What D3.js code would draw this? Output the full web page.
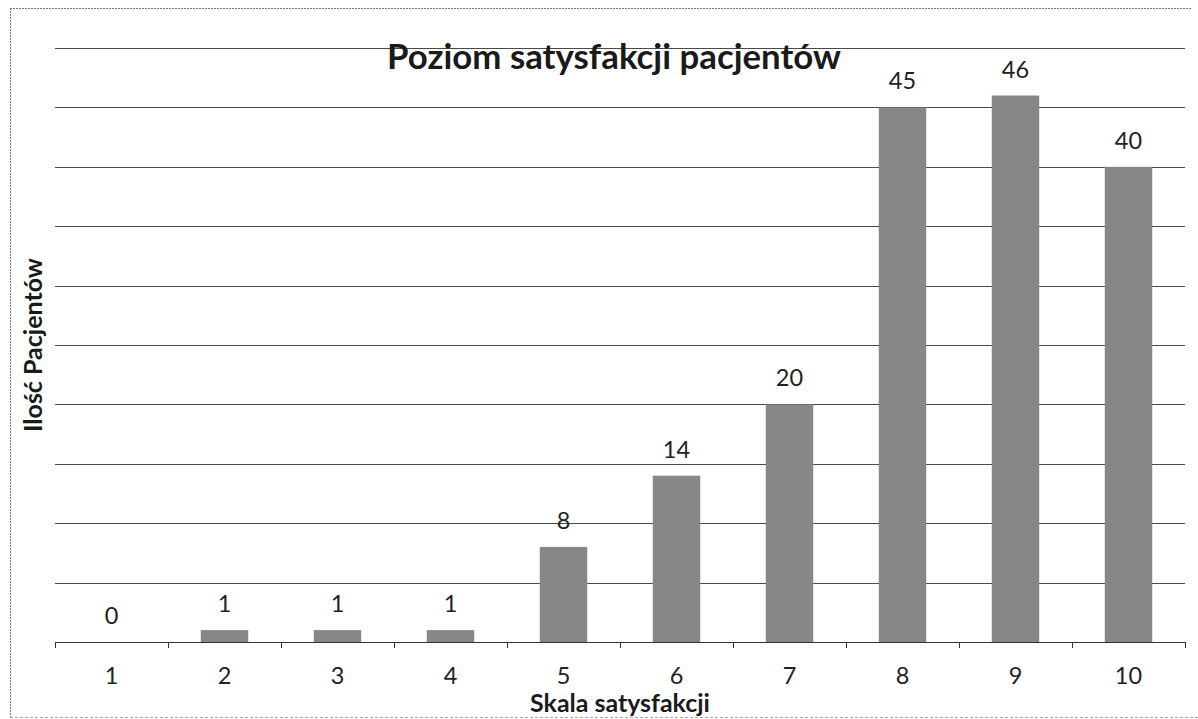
<!DOCTYPE html>
<html><head><meta charset="utf-8">
<script src="https://cdn.jsdelivr.net/npm/d3@7"></script>
<style>
html,body{margin:0;padding:0;background:#fff;}
svg{display:block;font-family:Lato,"Open Sans",sans-serif;}
</style></head>
<body><svg id="c" width="1198" height="719"></svg>
<script>
const categories = ["1","2","3","4","5","6","7","8","9","10"];
const values = [0,1,1,1,8,14,20,45,46,40];
const gridTicks = [5,10,15,20,25,30,35,40,45,50];
const titleText = "Poziom satysfakcji pacjentów";
const xTitle = "Skala satysfakcji";
const yTitle = "Ilość Pacjentów";

(function(){
const svg = d3.select("#c");
const plotLeft = 55, plotRight = 1185, plotTop = 48, base = 642;
const midX = (plotLeft + plotRight) / 2;

function fit(sel, target){
  const w = sel.node().getComputedTextLength();
  const fs = parseFloat(sel.attr("font-size"));
  sel.attr("font-size", (fs * target / w).toFixed(2));
}

// border (scanned frame)
svg.append("line").attr("x1",10).attr("x2",1192).attr("y1",8.5).attr("y2",8.5)
  .attr("stroke","#777").attr("stroke-width",1).attr("stroke-dasharray","2,1");
svg.append("line").attr("x1",10.5).attr("x2",10.5).attr("y1",8).attr("y2",719)
  .attr("stroke","#777").attr("stroke-width",1).attr("stroke-dasharray","2,1");
svg.append("line").attr("x1",10).attr("x2",1198).attr("y1",717.5).attr("y2",717.5)
  .attr("stroke","#aaa").attr("stroke-width",1).attr("stroke-dasharray","3,2");

const x = d3.scaleBand().domain(categories).range([plotLeft,plotRight]).paddingInner(0.58).paddingOuter(0.29);
const y = d3.scaleLinear().domain([0,50]).range([base,plotTop]);

// gridlines
svg.append("g").selectAll("line").data(gridTicks).join("line")
  .attr("x1",plotLeft).attr("x2",plotRight)
  .attr("y1",d=>Math.round(y(d))+0.5).attr("y2",d=>Math.round(y(d))+0.5)
  .attr("stroke","#4a4a4a").attr("stroke-width",1);

// title
const t = svg.append("text").attr("x",614).attr("y",69).attr("text-anchor","middle")
  .attr("font-size",30).attr("font-weight","bold").attr("fill","#1a1a1a").text(titleText);
fit(t, 454);

// bars
svg.append("g").selectAll("rect").data(values).join("rect")
  .attr("x",(d,i)=>x(categories[i])).attr("width",x.bandwidth())
  .attr("y",d=>y(d)).attr("height",d=>base-y(d))
  .attr("fill","#878787");

// value labels
svg.append("g").selectAll("text").data(values).join("text")
  .attr("x",(d,i)=>x(categories[i])+x.bandwidth()/2)
  .attr("y",d=>y(d)-18).attr("text-anchor","middle")
  .attr("font-size",23.5).attr("fill","#222").text(d=>d);

// x axis
const step = x.step();
const bounds = categories.map(c=>x(c)+x.bandwidth()/2-step/2).concat([x(categories[categories.length-1])+x.bandwidth()/2+step/2]);
svg.append("line").attr("x1",plotLeft).attr("x2",plotRight).attr("y1",base+0.5).attr("y2",base+0.5)
  .attr("stroke","#333").attr("stroke-width",1);
svg.append("g").selectAll("line").data(bounds).join("line")
  .attr("x1",d=>Math.round(d)+0.5).attr("x2",d=>Math.round(d)+0.5)
  .attr("y1",base).attr("y2",base+6).attr("stroke","#333");
svg.append("g").selectAll("text").data(categories).join("text")
  .attr("x",c=>x(c)+x.bandwidth()/2).attr("y",684).attr("text-anchor","middle")
  .attr("font-size",23.5).attr("fill","#222").text(c=>c);

const xt = svg.append("text").attr("x",midX).attr("y",712).attr("text-anchor","middle")
  .attr("font-size",22).attr("font-weight","bold").attr("fill","#1a1a1a").text(xTitle);
fit(xt, 180);

const yt = svg.append("text").attr("transform","translate(42,345) rotate(-90)").attr("text-anchor","middle")
  .attr("font-size",22).attr("font-weight","bold").attr("fill","#1a1a1a").text(yTitle);
fit(yt, 174);
})();
</script></body></html>
